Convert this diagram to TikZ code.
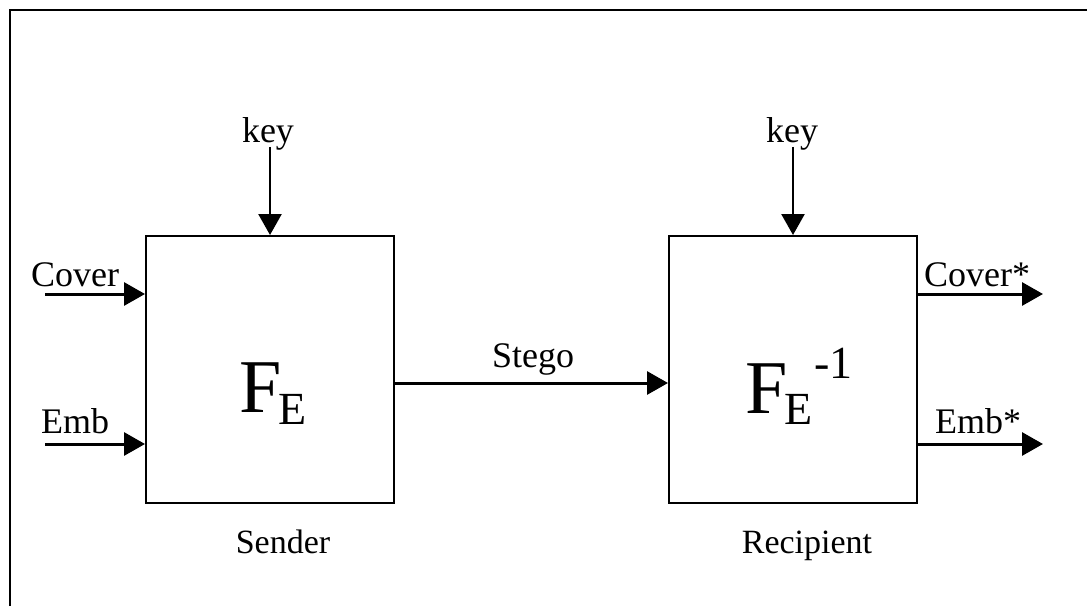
\documentclass[tikz,border=0pt]{standalone}
\usepackage{fontspec}
\setmainfont{Liberation Serif}
\usetikzlibrary{arrows.meta}
\begin{document}
\begin{tikzpicture}[x=1pt,y=-1pt,
  frameline/.style={line width=2pt},
  block/.style={draw,line width=2pt,minimum width=248pt,minimum height=267pt,inner sep=0pt},
  lbl/.style={inner sep=0pt,font=\fontsize{36}{36}\selectfont},
  caption/.style={inner sep=0pt,font=\fontsize{34}{34}\selectfont},
  funcsym/.style={inner sep=0pt,anchor=base west,font=\fontsize{76}{76}\selectfont},
  flow/.style={line width=3pt,-{Triangle[length=21pt,width=23pt]}},
  keyflow/.style={line width=2.5pt,-{Triangle[length=21pt,width=23pt]}}]
\useasboundingbox (0,0) rectangle (1087,606);
% open frame running off the right and bottom edges
\draw[frameline] (10,606) -- (10,9.5) -- (1087,9.5);

% the two processing blocks
\node[block] (send) at (270,369.5) {};
\node[block] (recv) at (793,369.5) {};

% function symbols
\node[funcsym] (fe) at (239,412)
  {F\kern-3pt\raisebox{-12pt}{\fontsize{46}{46}\selectfont E}};
\node[funcsym] (fei) at (745,413)
  {F\kern-3pt\raisebox{-11pt}{\fontsize{46}{46}\selectfont E}\kern2pt\raisebox{35pt}{\fontsize{46}{46}\selectfont -1}};

% keys
\node[lbl,anchor=base] (k1) at (268,142) {key};
\node[lbl,anchor=base] (k2) at (792,142) {key};
\draw[keyflow] (k1.south -| send.north) ++(0,-3) -- (send.north);
\draw[keyflow] (k2.south -| recv.north) ++(0,-3) -- (recv.north);

% sender inputs
\coordinate (cin) at (45,294);
\coordinate (ein) at (45,444);
\node[lbl,anchor=base west] (lcov) at (31,286) {Cover};
\node[lbl,anchor=base west] (lemb) at (41,433) {Emb};
\draw[flow] (cin) -- (send.west |- cin);
\draw[flow] (ein) -- (send.west |- ein);

% transmission
\node[lbl,anchor=base] (lst) at (533,367) {Stego};
\draw[flow] (send.east |- 0,383) -- (recv.west |- 0,383);

% recipient outputs
\coordinate (cout) at (1043,294);
\coordinate (eout) at (1043,444);
\node[lbl,anchor=base west] (lcovs) at (924,286) {Cover*};
\node[lbl,anchor=base west] (lembs) at (935,433) {Emb*};
\draw[flow] (recv.east |- cout) -- (cout);
\draw[flow] (recv.east |- eout) -- (eout);

% captions
\node[caption,anchor=base] (lsend) at (283,553) {Sender};
\node[caption,anchor=base] (lrecv) at (807,553) {Recipient};
\end{tikzpicture}
\end{document}
